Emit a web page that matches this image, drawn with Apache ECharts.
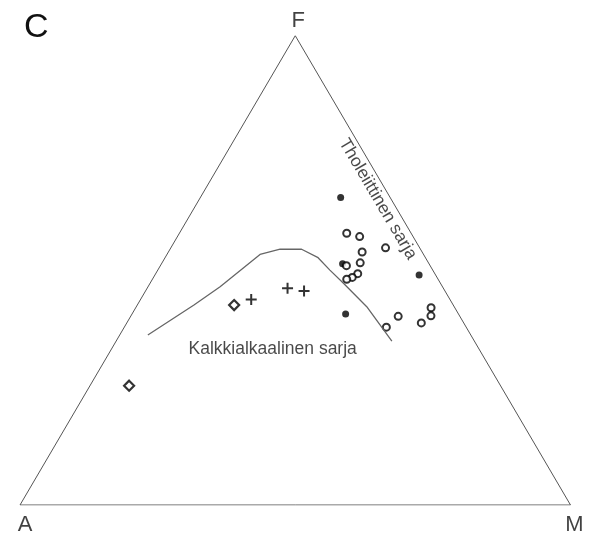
<!DOCTYPE html>
<html><head><meta charset="utf-8">
<script src="https://cdn.jsdelivr.net/npm/echarts@6/dist/echarts.min.js"></script>
<style>html,body{margin:0;padding:0;background:#fff}#c{width:590px;height:535px}</style>
</head><body><div id="c"></div>
<script>
// Ternary compositions [A, F, M] in percent
const vertices = [["A",[100,0,0]],["M",[0,0,100]],["F",[0,100,0]]];
const filledDots = [[9,65.5,25.5],[15.7,51.4,32.9],[3,49,48],[20.5,40.7,38.8]];
const openCircles = [[11.7,57.9,30.4],[9.7,57.2,33.1],[10.9,53.9,35.2],[6.2,54.8,39],[15.2,51,33.8],[12.4,51.6,36],[14,49.3,36.7],[15.4,48.5,36.1],[16.6,48.1,35.3],[11.2,40.2,48.6],[14.5,37.9,47.6],[7.7,38.8,53.5],[4.3,42,53.6],[5.2,40.3,54.5]];
const crosses = [[36.1,43.8,20.1],[28.3,46.2,25.5],[25.6,45.6,28.8]];
const diamonds = [[39.8,42.6,17.6],[67.4,25.4,7.1]];
const boundary = [[58.6,36.2,5.1],[47.1,42.6,10.3],[40.4,46.5,13.1],[29.7,53.4,16.9],[25.5,54.5,20],[21.6,54.5,23.9],[19.5,52.7,27.8],[18.7,50.1,31.3],[17.6,47.2,35.1],[15.9,42.3,41.9],[15,34.9,50.1]];
const fieldLabels = [["Kalkkialkaalinen sarja",[37.5,33.2,29.3],0],["Tholeiittinen sarja",[2.4,65.2,32.4],-59.5]];
const panelLabel = "C";

function tern(p){const s=p[0]+p[1]+p[2];const f=p[1]/s,m=p[2]/s;return [m+f/2,f];}
const vOffsets={A:[5,20],M:[4,20],F:[3,-15]};
const font='"Liberation Sans", Arial, sans-serif';

const chart=echarts.init(document.getElementById('c'),null,{renderer:'canvas'});
chart.setOption({
  animation:false,
  backgroundColor:'#fff',
  grid:{left:20,right:19.5,top:35.7,bottom:30},
  xAxis:{type:'value',min:0,max:1,show:false},
  yAxis:{type:'value',min:0,max:1,show:false},
  graphic:[{type:'text',left:24,top:11,style:{text:panelLabel,fontSize:34,fontFamily:font,fill:'#111'}}],
  series:[
    {type:'line',data:[...[0,1,2,0].map(i=>tern(vertices[i][1]))],symbol:'none',lineStyle:{color:'#555',width:1},silent:true},
    {type:'line',data:boundary.map(tern),symbol:'none',lineStyle:{color:'#666',width:1.3},silent:true},
    {type:'scatter',data:vertices.map(v=>({value:tern(v[1]),label:{formatter:v[0],offset:vOffsets[v[0]]}})),symbolSize:0,
      label:{show:true,position:'inside',align:'center',verticalAlign:'middle',fontSize:22,fontFamily:font,color:'#111'}},
    {type:'scatter',data:fieldLabels.map(l=>({value:tern(l[1]),label:{formatter:l[0],rotate:l[2]}})),symbolSize:0,
      label:{show:true,position:'inside',align:'center',verticalAlign:'middle',fontSize:17.5,fontFamily:font,color:'#1a1a1a'}},
    {type:'scatter',data:filledDots.map(tern),symbol:'circle',symbolSize:7,itemStyle:{color:'#000'}},
    {type:'scatter',data:openCircles.map(tern),symbol:'circle',symbolSize:7,itemStyle:{color:'#fff',borderColor:'#000',borderWidth:2}},
    {type:'scatter',data:crosses.map(tern),symbol:'path://M0,5L10,5M5,0L5,10',symbolSize:11,itemStyle:{color:'none',borderColor:'#000',borderWidth:2}},
    {type:'scatter',data:diamonds.map(tern),symbol:'diamond',symbolSize:10,itemStyle:{color:'#fff',borderColor:'#000',borderWidth:2.2}}
  ]
});
</script></body></html>
